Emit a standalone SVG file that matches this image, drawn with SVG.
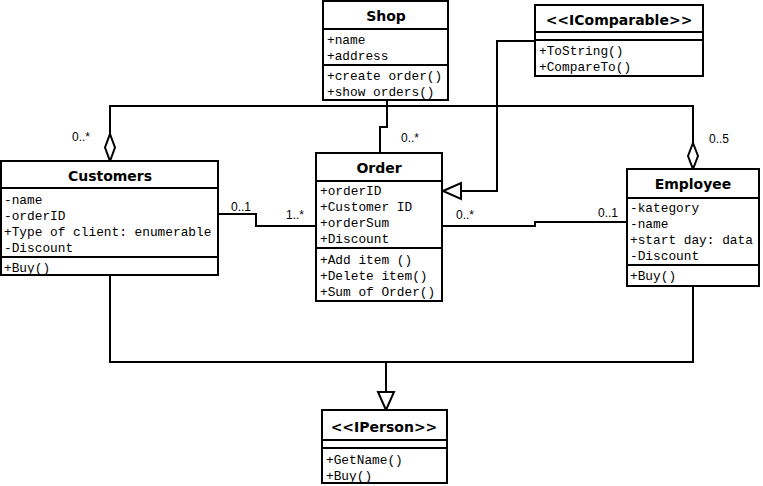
<svg xmlns="http://www.w3.org/2000/svg" width="763" height="486" viewBox="0 0 763 486">
<style>
.box{fill:#fff;stroke:#000;stroke-width:2}
.sep{stroke:#000;stroke-width:2}
.title{font-family:"DejaVu Sans",sans-serif;font-weight:bold;font-size:14px;text-anchor:middle;fill:#000}
.m{font-family:"Liberation Mono","Courier New",monospace;font-size:12.8px;fill:#000}
.lbl{font-family:"Liberation Sans",Arial,sans-serif;font-size:12px;fill:#000}
.ln{fill:none;stroke:#000;stroke-width:2}
.hd{fill:#fff;stroke:#000;stroke-width:2}
</style>
<rect width="763" height="486" fill="#fff"/>
<g id="connectors">
<polyline class="ln" points="110,134 110,106 693,106 693,143"/>
<polygon class="hd" points="110,134 115,147.5 110,161 105,147.5"/>
<polygon class="hd" points="693,143 698,156 693,169 688,156"/>
<polyline class="ln" points="387,100 387,127 380,127 380,153"/>
<polyline class="ln" points="535,41 497,41 497,191 461,191"/>
<polygon class="hd" points="443,191 461,183 461,199"/>
<polyline class="ln" points="218,214 256,214 256,226 316,226"/>
<polyline class="ln" points="442,226 535,226 535,222 627,222"/>
<polyline class="ln" points="110,275 110,362 693,362 693,286"/>
<polyline class="ln" points="386,362 386,392"/>
<polygon class="hd" points="386,410 378,392 394,392"/>
<text class="lbl" x="72" y="141">0..*</text>
<text class="lbl" x="709" y="143">0..5</text>
<text class="lbl" x="401" y="142">0..*</text>
<text class="lbl" x="231" y="211">0..1</text>
<text class="lbl" x="286" y="219">1..*</text>
<text class="lbl" x="456" y="219">0..*</text>
<text class="lbl" x="598" y="217">0..1</text>
</g>
<g id="shop">
<rect class="box" x="323" y="1" width="125" height="99"/>
<line class="sep" x1="323" y1="29" x2="448" y2="29"/>
<line class="sep" x1="323" y1="65" x2="448" y2="65"/>
<text class="title" x="386" y="21">Shop</text>
<text class="m" x="327" y="44">+name</text>
<text class="m" x="327" y="60">+address</text>
<text class="m" x="327" y="80">+create order()</text>
<text class="m" x="327" y="96">+show orders()</text>
</g>
<g id="icomparable">
<rect class="box" x="535" y="5" width="168" height="71"/>
<line class="sep" x1="535" y1="32" x2="703" y2="32"/>
<line class="sep" x1="535" y1="40" x2="703" y2="40"/>
<text class="title" x="619" y="25">&lt;&lt;IComparable&gt;&gt;</text>
<text class="m" x="539" y="55">+ToString()</text>
<text class="m" x="539" y="71">+CompareTo()</text>
</g>
<g id="customers">
<rect class="box" x="1" y="161" width="217" height="114"/>
<line class="sep" x1="1" y1="188" x2="218" y2="188"/>
<line class="sep" x1="1" y1="257" x2="218" y2="257"/>
<text class="title" x="110" y="181">Customers</text>
<text class="m" x="4" y="204">-name</text>
<text class="m" x="4" y="220">-orderID</text>
<text class="m" x="4" y="236">+Type of client: enumerable</text>
<text class="m" x="4" y="252">-Discount</text>
<text class="m" x="4" y="272">+Buy()</text>
</g>
<g id="order">
<rect class="box" x="316" y="153" width="126" height="148"/>
<line class="sep" x1="316" y1="181" x2="442" y2="181"/>
<line class="sep" x1="316" y1="248" x2="442" y2="248"/>
<text class="title" x="379" y="173">Order</text>
<text class="m" x="320" y="195">+orderID</text>
<text class="m" x="320" y="211">+Customer ID</text>
<text class="m" x="320" y="227">+orderSum</text>
<text class="m" x="320" y="243">+Discount</text>
<text class="m" x="320" y="264">+Add item ()</text>
<text class="m" x="320" y="280">+Delete item()</text>
<text class="m" x="320" y="296">+Sum of Order()</text>
</g>
<g id="employee">
<rect class="box" x="627" y="169" width="132" height="117"/>
<line class="sep" x1="627" y1="198" x2="759" y2="198"/>
<line class="sep" x1="627" y1="265" x2="759" y2="265"/>
<text class="title" x="693" y="189">Employee</text>
<text class="m" x="630" y="212">-kategory</text>
<text class="m" x="630" y="228">-name</text>
<text class="m" x="630" y="244">+start day: data</text>
<text class="m" x="630" y="260">-Discount</text>
<text class="m" x="630" y="280">+Buy()</text>
</g>
<g id="iperson">
<rect class="box" x="322" y="410" width="125" height="73"/>
<line class="sep" x1="322" y1="440" x2="447" y2="440"/>
<line class="sep" x1="322" y1="448" x2="447" y2="448"/>
<text class="title" x="384" y="432">&lt;&lt;IPerson&gt;&gt;</text>
<text class="m" x="326" y="464">+GetName()</text>
<text class="m" x="326" y="480">+Buy()</text>
</g>
</svg>
